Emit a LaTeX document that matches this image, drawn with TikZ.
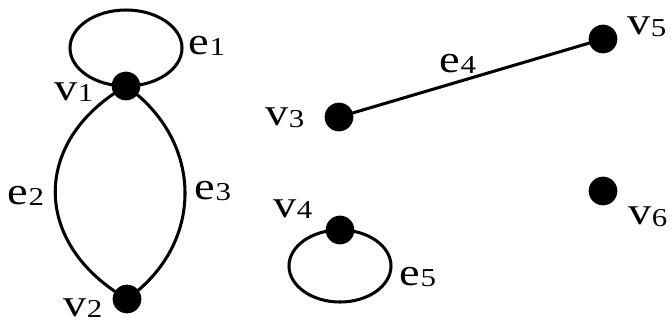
\documentclass[tikz,border=0pt]{standalone}
\usepackage{fontspec}
\setmainfont{Liberation Serif}
\usetikzlibrary{positioning,calc}

% letter with a small, slightly lowered index
\newcommand{\glab}[2]{\scalebox{1.2}[1]{#1\raisebox{-0.04em}{\fontsize{22}{22}\selectfont #2}}}

\begin{document}
\begin{tikzpicture}[x=0.03cm,y=-0.03cm,
  vert/.style={circle,fill=black,inner sep=0pt,minimum size=0.86cm},
  edge/.style={line width=2.6pt},
  lab/.style={font=\fontsize{33}{35}\selectfont,inner sep=0pt}]
\useasboundingbox (0,0) rectangle (672,327);
% vertices
\node[vert] (v1) at (126,86) {};
\node[vert] (v2) at (127,299) {};
\node[vert] (v3) at (339,117) {};
\node[vert] (v4) at (340,230) {};
\node[vert] (v5) at (603,39) {};
\node[vert] (v6) at (603,191) {};
% vertex labels
\node[lab] (lv1) at (74,92) {\glab{v}{1}};
\node[lab] (lv2) at (83,308) {\glab{v}{2}};
\node[lab] (lv3) at (285,118) {\glab{v}{3}};
\node[lab] (lv4) at (293,209) {\glab{v}{4}};
\node[lab] (lv5) at (647,27) {\glab{v}{5}};
\node[lab] (lv6) at (648,217) {\glab{v}{6}};
% edges
\draw[edge] ($(v1.center)+(0,-38)$) ellipse [x radius=56, y radius=38];
\draw[edge] (v1.center) .. controls +(-95,55) and +(-95,-55) .. (v2.center);
\draw[edge] (v1.center) .. controls +(78,55) and +(78,-55) .. (v2.center);
\draw[edge] (v3.center) -- (v5.center);
\draw[edge] ($(v4.center)+(0,36)$) ellipse [x radius=51, y radius=36];
% edge labels
\node[lab] (le1) at (207,46) {\glab{e}{1}};
\node[lab] (le2) at (26,196) {\glab{e}{2}};
\node[lab] (le3) at (213,191) {\glab{e}{3}};
\node[lab] (le4) at (458,64) {\glab{e}{4}};
\node[lab] (le5) at (418,277) {\glab{e}{5}};
\end{tikzpicture}
\end{document}
